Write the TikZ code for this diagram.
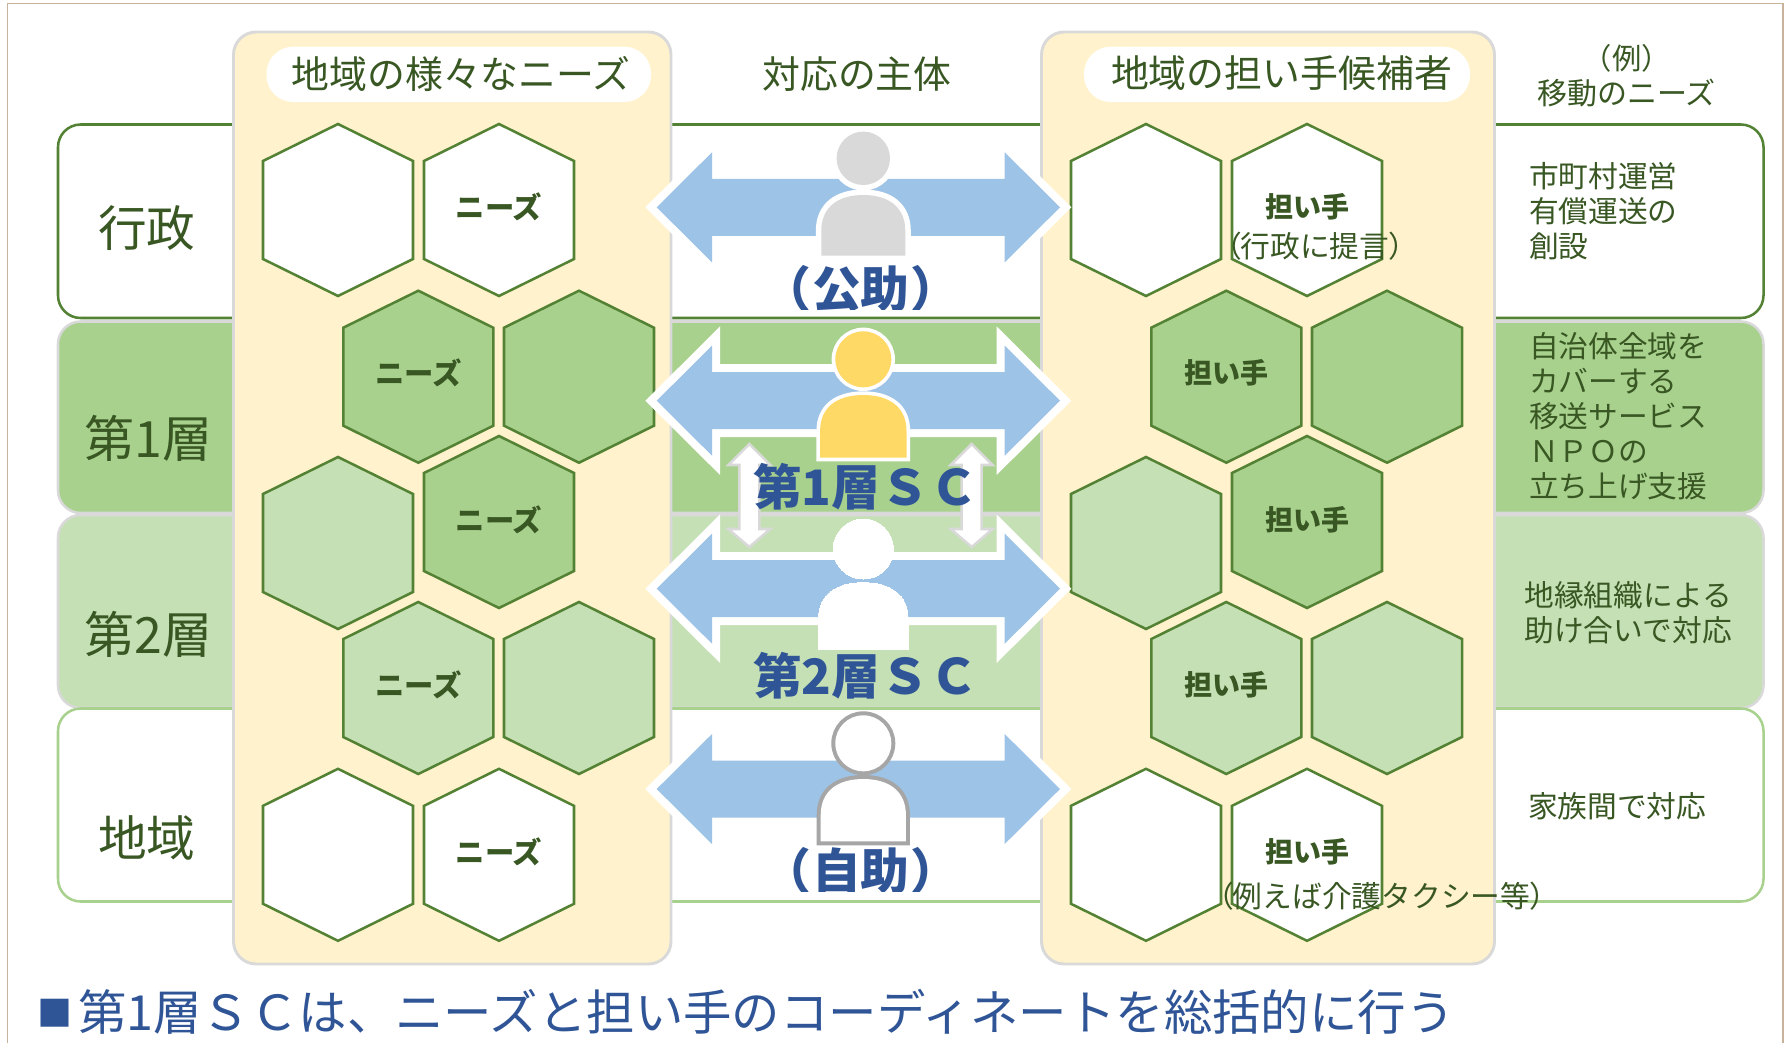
\documentclass[tikz,border=0pt]{standalone}
\usepackage{fontspec}
\setmainfont{Noto Sans CJK JP}
\newfontfamily\pjp[RawFeature=+palt]{Noto Sans CJK JP}
\definecolor{dkgreen}{HTML}{385723}
\definecolor{hexline}{HTML}{548235}
\definecolor{gone}{HTML}{A9D18E}
\definecolor{gtwo}{HTML}{C5E0B4}
\definecolor{cream}{HTML}{FFF2CC}
\definecolor{edgegrey}{HTML}{D9D9D9}
\definecolor{navy}{HTML}{2F5597}
\definecolor{sky}{HTML}{9DC3E6}
\definecolor{frameline}{HTML}{C9B29B}
\definecolor{gold}{HTML}{FFD966}
\definecolor{midgrey}{HTML}{A6A6A6}
\tikzset{
  rowbox/.style={rounded corners=17pt,line width=1.9pt},
  panelbox/.style={rounded corners=17pt,line width=2.2pt,draw=edgegrey,fill=cream},
  pill/.style={rounded corners=20pt,fill=white},
  hexa/.style={draw=hexline,line width=1.9pt,line join=miter},
  txt/.style={text=dkgreen,inner sep=0pt,outer sep=0pt},
  hextxt/.style={txt,font=\fontsize{21}{21}\selectfont\bfseries},
  needtxt/.style={txt,font=\fontsize{22}{22}\selectfont\bfseries},
  headtxt/.style={txt,font=\fontsize{28.4}{28.4}\selectfont},
  tiertxt/.style={txt,font=\fontsize{36.5}{36.5}\selectfont},
  layertxt/.style={txt,font=\fontsize{37.5}{37.5}\selectfont},
  sidetxt/.style={txt,align=left,font=\fontsize{22.3}{26.25}\selectfont},
  sctxt/.style={text=navy,inner sep=0pt,font=\fontsize{36.6}{36.6}\selectfont\bfseries},
  blueout/.style={draw=white,line width=12pt,fill=white,line join=miter,miter limit=10},
  bluein/.style={fill=sky},
  updown/.style={draw=edgegrey,line width=1.9pt,fill=white,line join=miter}
}
% hexagon: centre x, centre y, fill
\newcommand{\hexcell}[3]{%
  \draw[hexa,fill=#3] (#1,#2-86) -- (#1+75,#2-49) -- (#1+75,#2+49) -- (#1,#2+86)
     -- (#1-75,#2+49) -- (#1-75,#2-49) -- cycle;
}
% double arrow: centre y
\newcommand{\bluearrow}[1]{%
  \foreach \st in {blueout,bluein}{
  \path[\st] (656.7,#1) -- (712,#1-55) -- (712,#1-28.5) -- (1004.7,#1-28.5) -- (1004.7,#1-55)
     -- (1060,#1) -- (1004.7,#1+55) -- (1004.7,#1+28.5) -- (712,#1+28.5) -- (712,#1+55) -- cycle;}
}
% person: head y, head r, body top, half width, body bottom, fill, outline colour, outline pt
\newcommand{\person}[8]{%
  \filldraw[draw=#7,fill=#7,line width=#8] (863.3,#1) circle (#2);
  \fill[#6] (863.3,#1) circle (#2);
  \filldraw[draw=#7,fill=#7,line width=#8] (863.3-#4,#5) -- (863.3-#4,#3+36)
     .. controls (863.3-#4,#3+12) and (863.3-0.6*#4,#3) .. (863.3,#3)
     .. controls (863.3+0.6*#4,#3) and (863.3+#4,#3+12) .. (863.3+#4,#3+36)
     -- (863.3+#4,#5) -- cycle;
  \fill[#6] (863.3-#4,#5) -- (863.3-#4,#3+36)
     .. controls (863.3-#4,#3+12) and (863.3-0.6*#4,#3) .. (863.3,#3)
     .. controls (863.3+0.6*#4,#3) and (863.3+#4,#3+12) .. (863.3+#4,#3+36)
     -- (863.3+#4,#5) -- cycle;
}
\newcommand{\vertarrow}[1]{%
  \draw[updown] (#1,444) -- (#1+21,465) -- (#1+10,465) -- (#1+10,529) -- (#1+21,529)
     -- (#1,547) -- (#1-21,529) -- (#1-10,529) -- (#1-10,465) -- (#1-21,465) -- cycle;
}
\begin{document}
\begin{tikzpicture}[x=0.75pt,y=-0.75pt]
\useasboundingbox (0,0) rectangle (1785,1043);
% frame
\draw[frameline,line width=0.9pt] (7.5,1043) -- (7.5,3.7) -- (1783,3.7) -- (1783,1043);
% rows
\draw[rowbox,draw=hexline,fill=white] (58,124.5) rectangle (1763.5,318);
\draw[rowbox,draw=edgegrey,fill=gone] (58,321.5) rectangle (1763.5,513);
\draw[rowbox,draw=edgegrey,fill=gtwo] (58,515) rectangle (1763.5,708);
\draw[rowbox,draw=gone,fill=white] (58,708.5) rectangle (1763.5,901.5);
% panels
\draw[panelbox] (233.5,32) rectangle (671,964);
\draw[panelbox] (1041.5,32) rectangle (1494.5,964);
\fill[pill] (266.5,46.7) rectangle (651,102);
\fill[pill] (1084,46.7) rectangle (1470,102);
% headings
\node[headtxt] (h1) at (461,73.5) {地域の様々なニーズ};
\node[headtxt] (h2) at (857,74) {対応の主体};
\node[headtxt] (h3) at (1281.5,73.5) {地域の担い手候補者};
\node[txt,font=\fontsize{22}{22}\selectfont] (h4) at (1626.7,58) {{\pjp （}\kern1.2pt 例\kern1.2pt{\pjp ）}};
\node[txt,font=\fontsize{22.5}{22.5}\selectfont] (h5) at (1626.4,93) {移動のニーズ};
% tiers
\node[tiertxt] (t1) at (146.8,228) {行政};
\node[layertxt] (t2) at (148.2,438) {第1層};
\node[layertxt] (t3) at (148.2,634) {第2層};
\node[tiertxt] (t4) at (146.8,837.6) {地域};
% side text
\node[sidetxt,anchor=west] (s1) at (1529,210.7) {市町村運営\\有償運送の\\創設};
\node[sidetxt,anchor=west] (s2) at (1529,416.7) {自治体全域を\\カバーする\\移送サービス\\ＮＰＯの\\立ち上げ支援};
\node[sidetxt,anchor=west] (s3) at (1524.5,613) {地縁組織による\\助け合いで対応};
\node[sidetxt,anchor=west] (s4) at (1528,806.5) {家族間で対応};
% left hexagons
\hexcell{338}{210}{white}
\hexcell{499}{210}{white}
\hexcell{418.3}{376.7}{gone}
\hexcell{579}{376.7}{gone}
\hexcell{338}{543}{gtwo}
\hexcell{499}{522}{gone}
\hexcell{418.3}{688}{gtwo}
\hexcell{579}{688}{gtwo}
\hexcell{338}{854.8}{white}
\hexcell{499}{854.8}{white}
% right hexagons
\hexcell{1146}{210}{white}
\hexcell{1307}{210}{white}
\hexcell{1226.3}{376.7}{gone}
\hexcell{1387}{376.7}{gone}
\hexcell{1146}{543}{gtwo}
\hexcell{1307}{522}{gone}
\hexcell{1226.3}{688}{gtwo}
\hexcell{1387}{688}{gtwo}
\hexcell{1146}{854.8}{white}
\hexcell{1307}{854.8}{white}
% hexagon labels
\node[needtxt] (n1) at (499,207) {ニーズ};
\node[needtxt] (n2) at (418.3,373) {ニーズ};
\node[needtxt] (n3) at (499,520) {ニーズ};
\node[needtxt] (n4) at (418.3,685) {ニーズ};
\node[needtxt] (n5) at (499,852) {ニーズ};
\node[hextxt] (r1) at (1307,207) {担い手};
\node[hextxt] (r2) at (1226.3,373) {担い手};
\node[hextxt] (r3) at (1307,520) {担い手};
\node[hextxt] (r4) at (1226.3,685) {担い手};
\node[hextxt] (r5) at (1307,852) {担い手};
% notes
\node[txt,font=\fontsize{22.3}{22.3}\selectfont] (p1) at (1315,245.7) {{\pjp （}行政に提言{\pjp ）}};
\node[txt,font=\fontsize{22.3}{22.3}\selectfont] (p2) at (1381.6,896.5) {{\pjp （}例えば介護タクシー等{\pjp ）}};
% blue arrows
\bluearrow{207.3}
\bluearrow{400.7}
\bluearrow{588.7}
\bluearrow{789}
% people
\person{158.3}{26.7}{195}{42}{255.7}{edgegrey}{white}{8.25pt}
\person{359.3}{28}{395}{43.2}{457.7}{gold}{white}{5.5pt}
\person{549}{30}{582.7}{44.8}{649.3}{white}{white}{0pt}
\person{743.3}{28}{779}{42.6}{841.3}{white}{midgrey}{6pt}
% small arrows
\vertarrow{749.3}
\vertarrow{971.7}
% role labels
\begin{scope}
\clip (770,262) rectangle (960,309);
\node[sctxt] (c1) at (861,289) {{\pjp\bfseries （}\kern2pt 公助\kern2pt{\pjp\bfseries ）}};
\end{scope}
\node[sctxt] (c2) at (865.5,486.7) {第1層ＳＣ};
\node[sctxt] (c3) at (865.5,675.7) {第2層ＳＣ};
\begin{scope}
\clip (770,844) rectangle (960,891);
\node[sctxt] (c4) at (861,871) {{\pjp\bfseries （}\kern2pt 自助\kern2pt{\pjp\bfseries ）}};
\end{scope}
% footer
\node[text=navy,inner sep=0pt,font=\fontsize{26.25}{26.25}\selectfont] (sq) at (55,1013) {■};
\node[text=navy,inner sep=0pt,anchor=west,font=\fontsize{36.3}{36.3}\selectfont] (f) at (78,1012) {第1層ＳＣは、ニーズと担い手のコーディネートを総括的に行う};
\end{tikzpicture}
\end{document}
